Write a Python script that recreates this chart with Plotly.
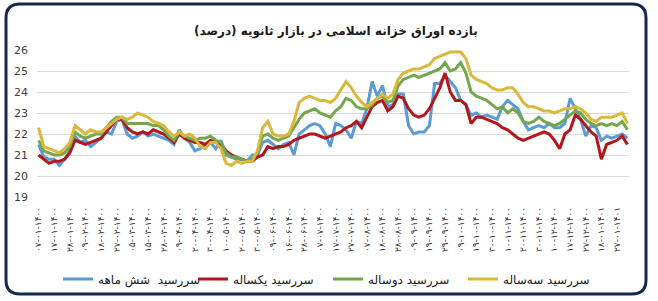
import plotly.graph_objects as go

# ---------------- data ----------------
tick_labels = [
    "۰۷-۰۱-۱۴۰۰", "۱۷-۰۱-۱۴۰۰", "۲۸-۰۱-۱۴۰۰",
    "۰۹-۰۲-۱۴۰۰", "۱۸-۰۲-۱۴۰۰", "۲۷-۰۲-۱۴۰۰",
    "۰۵-۰۳-۱۴۰۰", "۱۵-۰۳-۱۴۰۰", "۲۸-۰۳-۱۴۰۰",
    "۰۹-۰۴-۱۴۰۰", "۲۰-۰۴-۱۴۰۰", "۳۰-۰۴-۱۴۰۰",
    "۱۰-۰۵-۱۴۰۰", "۲۰-۰۵-۱۴۰۰", "۳۰-۰۵-۱۴۰۰",
    "۰۹-۰۶-۱۴۰۰", "۱۶-۰۶-۱۴۰۰", "۲۸-۰۶-۱۴۰۰",
    "۰۷-۰۷-۱۴۰۰", "۱۷-۰۷-۱۴۰۰", "۲۷-۰۷-۱۴۰۰",
    "۰۷-۰۸-۱۴۰۰", "۱۸-۰۸-۱۴۰۰", "۲۸-۰۸-۱۴۰۰",
    "۰۹-۰۹-۱۴۰۰", "۱۹-۰۹-۱۴۰۰", "۲۹-۰۹-۱۴۰۰",
    "۰۹-۱۰-۱۴۰۰", "۱۹-۱۰-۱۴۰۰", "۳۰-۱۰-۱۴۰۰",
    "۱۰-۱۱-۱۴۰۰", "۲۰-۱۱-۱۴۰۰", "۳۰-۱۱-۱۴۰۰",
    "۱۰-۱۲-۱۴۰۰", "۱۷-۱۲-۱۴۰۰", "۲۷-۱۲-۱۴۰۰",
    "۱۸-۰۱-۱۴۰۱", "۲۷-۰۱-۱۴۰۱",
]
points_per_label = 3

six_month = [
    21.5, 20.9, 20.8, 20.8, 20.5, 20.8, 21.2, 21.9, 21.6, 21.7,
    21.4, 21.6, 21.8, 22.1, 22.0, 22.6, 22.7, 22.0, 21.8, 21.9,
    22.1, 21.9, 22.0, 21.9, 21.8, 21.7, 21.5, 22.2, 21.8, 21.6,
    21.2, 21.3, 21.5, 21.6, 21.3, 21.7, 21.0, 20.9, 20.8, 20.8,
    20.7, 21.0, 21.0, 21.6, 21.7, 21.5, 21.3, 21.5, 21.6, 21.0,
    22.0, 22.2, 22.4, 22.5, 22.4, 22.0, 21.4, 22.5, 22.4, 22.2,
    21.8, 22.6, 22.5, 23.2, 24.5, 23.8, 24.3, 23.3, 23.4, 23.9,
    23.9, 22.4, 22.0, 22.1, 22.1, 22.4, 24.4, 24.4, 24.8, 24.5,
    24.2, 23.6, 23.4, 22.9, 23.0, 22.8, 22.9, 22.8, 22.7, 23.3,
    23.6, 23.4, 23.2, 22.6, 22.2, 22.3, 22.4, 22.3, 22.5, 22.3,
    22.3, 22.5, 23.7, 23.2, 22.7, 21.9, 22.4, 22.3, 21.7, 21.9,
    21.8, 21.9, 22.0, 21.8,
]
one_year = [
    21.0, 20.8, 20.6, 20.7, 20.7, 20.8, 21.1, 21.7, 21.6, 21.5,
    21.6, 21.7, 21.8, 22.1, 22.4, 22.7, 22.7, 22.3, 22.1, 22.0,
    22.1, 22.0, 22.2, 22.1, 22.0, 21.8, 21.6, 22.0, 21.8, 21.7,
    21.6, 21.6, 21.5, 21.7, 21.6, 21.5, 21.2, 21.0, 20.9, 20.8,
    20.7, 20.7, 20.9, 21.0, 21.4, 21.3, 21.4, 21.4, 21.5, 21.7,
    21.8, 21.9, 22.0, 22.0, 21.9, 21.8, 21.9, 22.0, 22.1, 22.3,
    22.4, 22.6, 22.3, 22.8, 23.3, 23.5, 23.6, 23.1, 23.3, 23.8,
    23.7, 23.2, 22.9, 22.8, 22.9, 23.2, 23.7, 24.2, 24.9, 24.0,
    23.6, 23.6, 23.4, 22.5, 22.8, 22.8, 22.7, 22.6, 22.5, 22.3,
    22.2, 22.0, 21.8, 21.7, 21.8, 21.9, 22.0, 22.1, 22.0, 21.7,
    21.3, 22.0, 22.2, 22.9, 22.7, 22.4, 22.1, 21.9, 20.8, 21.5,
    21.6, 21.7, 21.9, 21.5,
]
two_year = [
    21.7, 21.2, 21.1, 21.0, 21.0, 21.1, 21.4, 22.1, 21.9, 21.8,
    21.9, 22.0, 22.0, 22.3, 22.6, 22.8, 22.8, 22.5, 22.5, 22.5,
    22.5, 22.5, 22.4, 22.4, 22.2, 21.9, 21.7, 22.1, 21.9, 21.8,
    21.7, 21.8, 21.8, 21.9, 21.7, 21.6, 21.1, 20.9, 20.9, 20.8,
    20.7, 20.8, 21.1, 21.9, 22.0, 21.8, 21.7, 21.8, 21.9, 22.3,
    22.7, 23.0, 23.1, 23.2, 23.0, 22.9, 22.8, 23.1, 23.3, 23.7,
    23.6, 23.3, 23.2, 23.2, 23.4, 23.7, 23.8, 23.5, 23.6, 24.3,
    24.6, 24.7, 24.8, 24.7, 24.8, 24.9, 25.0, 25.1, 25.4, 25.0,
    25.1, 25.4, 24.9, 24.0, 23.8, 23.7, 23.6, 23.4, 23.2, 23.3,
    23.0, 23.2, 23.0, 22.6, 22.5, 22.6, 22.8, 22.6, 22.5, 22.4,
    22.5, 22.7, 22.9, 23.1, 23.0, 22.7, 22.5, 22.4, 22.5, 22.4,
    22.5, 22.4, 22.6, 22.2,
]
three_year = [
    22.3, 21.4, 21.3, 21.2, 21.1, 21.3, 21.6, 22.4, 22.2, 22.0,
    22.2, 22.1, 22.1, 22.3, 22.5, 22.7, 22.8, 22.7, 22.8, 23.0,
    22.9, 22.8, 22.6, 22.5, 22.4, 22.1, 21.9, 22.1, 21.9, 22.0,
    21.8, 21.4, 21.3, 21.6, 21.6, 21.3, 20.6, 20.5, 20.7, 20.6,
    20.7, 20.7, 21.2, 22.3, 22.6, 22.0, 21.9, 21.9, 22.0, 22.6,
    23.5, 23.7, 23.8, 23.7, 23.6, 23.6, 23.5, 23.7, 24.1, 24.5,
    24.2, 23.8, 23.5, 23.3, 23.5, 23.7, 23.9, 23.7, 23.9, 24.6,
    24.9, 25.0, 25.1, 25.1, 25.2, 25.3, 25.6, 25.7, 25.8, 25.9,
    25.9, 25.9, 25.6, 24.8, 24.6, 24.5, 24.4, 24.2, 24.1, 24.1,
    24.2, 24.2, 23.9, 23.5, 23.3, 23.3, 23.2, 23.1, 23.1, 23.0,
    23.1, 23.2, 23.2, 23.3, 23.2, 23.0, 22.7, 22.6, 22.8, 22.8,
    22.8, 22.9, 23.0, 22.5,
]

series_names = ["سررسید  شش ماهه", "سررسید یکساله", "سررسید دوساله", "سررسید سه‌ساله"]
series_values = [six_month, one_year, two_year, three_year]
series_colors = ["#5B9BD5", "#B3161B", "#72A84B", "#D9B83A"]

title_text = "بازده اوراق خزانه اسلامی در بازار ثانویه (درصد)"
y_ticks = [19, 20, 21, 22, 23, 24, 25, 26]

# ---------------- figure ----------------
W, H = 658, 301
L, R, T, B = 37, 29, 50, 104
x_idx = list(range(len(six_month)))
tick_idx = list(range(0, len(tick_labels) * points_per_label, points_per_label))

fig = go.Figure()
for name, vals, col in zip(series_names, series_values, series_colors):
    fig.add_trace(go.Scatter(x=x_idx, y=vals, mode="lines", name=name,
                             line=dict(color=col, width=3)))

pw, ph = W - L - R, H - T - B


def px(xp):
    return (xp - L) / pw


def py(yp):
    return (H - B - yp) / ph


# rounded frame around the whole picture
x0, x1, y0, y1, r = 6, 646, 4, 294, 14
path = (f"M{px(x0 + r)},{py(y0)} L{px(x1 - r)},{py(y0)} "
        f"Q{px(x1)},{py(y0)} {px(x1)},{py(y0 + r)} "
        f"L{px(x1)},{py(y1 - r)} Q{px(x1)},{py(y1)} {px(x1 - r)},{py(y1)} "
        f"L{px(x0 + r)},{py(y1)} Q{px(x0)},{py(y1)} {px(x0)},{py(y1 - r)} "
        f"L{px(x0)},{py(y0 + r)} Q{px(x0)},{py(y0)} {px(x0 + r)},{py(y0)} Z")

fig.add_shape(type="path", path=path, xref="paper", yref="paper",
              line=dict(color="#17284F", width=3), layer="above")

# chart title as an annotation centred in pixels
fig.add_annotation(text="<b>" + title_text + "</b>", xref="paper", yref="paper",
                   x=px(336), y=py(31), xanchor="center", yanchor="middle",
                   showarrow=False,
                   font=dict(family="DejaVu Sans", size=12, color="#1a1a1a"))

fig.update_layout(
    width=W, height=H,
    margin=dict(l=L, r=R, t=T, b=B),
    paper_bgcolor="white", plot_bgcolor="white",
    showlegend=True,
    legend=dict(orientation="h", x=px(58), xanchor="left",
                y=1 - 279 / H, yref="container", yanchor="middle",
                font=dict(family="DejaVu Sans", size=12, color="#1a1a1a"),
                entrywidth=90, entrywidthmode="pixels",
                bgcolor="rgba(0,0,0,0)"),
    xaxis=dict(range=[-0.3, len(six_month) - 0.7], tickmode="array",
               tickvals=tick_idx, ticktext=tick_labels, tickangle=-90,
               showgrid=False, zeroline=False, showline=False, ticks="",
               ticklabelstandoff=7,
               tickfont=dict(family="DejaVu Sans", size=9, color="#333333")),
    yaxis=dict(range=[19, 26], tickmode="array", tickvals=y_ticks,
               showgrid=True, gridcolor="#D9D9D9", gridwidth=1,
               zeroline=False, showline=False, ticks="",
               ticklabelstandoff=8,
               tickfont=dict(family="DejaVu Sans", size=11, color="#404040")),
)

fig.write_html("out.html")
